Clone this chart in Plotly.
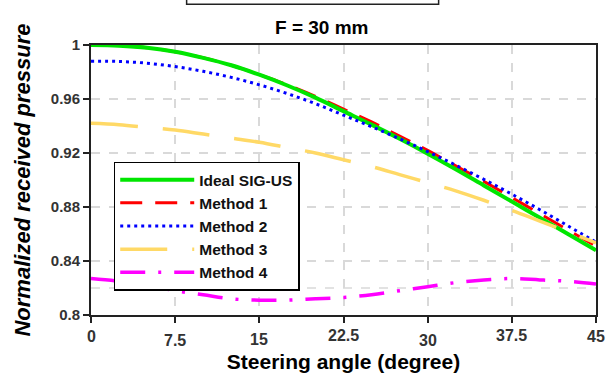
import plotly.graph_objects as go

angle = [0, 2.5, 5, 7.5, 10, 12.5, 15, 17.5, 20, 22.5, 25, 27.5, 30, 32.5, 35, 37.5, 40, 42.5, 45]
ideal = [1.0, 0.9995, 0.998, 0.995, 0.9905, 0.985, 0.978, 0.970, 0.961, 0.951, 0.941, 0.9305, 0.9195, 0.908, 0.896, 0.884, 0.872, 0.860, 0.848]
method1 = [1.0, 0.9995, 0.998, 0.995, 0.9905, 0.985, 0.978, 0.9705, 0.962, 0.9525, 0.943, 0.9325, 0.922, 0.9105, 0.899, 0.887, 0.875, 0.863, 0.851]
method2 = [0.988, 0.9878, 0.9865, 0.984, 0.9805, 0.976, 0.9705, 0.964, 0.9565, 0.948, 0.9395, 0.9305, 0.921, 0.911, 0.9005, 0.8895, 0.878, 0.866, 0.854]
method3 = [0.942, 0.941, 0.939, 0.937, 0.934, 0.931, 0.928, 0.924, 0.920, 0.915, 0.910, 0.904, 0.898, 0.892, 0.885, 0.8775, 0.8695, 0.8615, 0.8535]
method4 = [0.827, 0.825, 0.822, 0.818, 0.815, 0.812, 0.811, 0.811, 0.812, 0.813, 0.815, 0.818, 0.821, 0.824, 0.826, 0.827, 0.826, 0.825, 0.823]

x_ticks = [0, 7.5, 15, 22.5, 30, 37.5, 45]
x_ticklabels = ["0", "7.5", "15", "22.5", "30", "37.5", "45"]
y_ticks = [0.8, 0.84, 0.88, 0.92, 0.96, 1.0]
y_ticklabels = ["0.8", "0.84", "0.88", "0.92", "0.96", "1"]

# vertical offsets (px) of the x tick labels, as staggered in the original
x_label_shift = [-11, -15, -14, -10, -15, -10, -11]

FONT = "Liberation Sans, Arial, sans-serif"

fig = go.Figure()
fig.add_trace(go.Scatter(x=angle, y=method1, mode="lines", name="Method 1", legendrank=2,
                         line=dict(color="#ff0000", width=3, dash="22px,13px", shape="spline")))
fig.add_trace(go.Scatter(x=angle, y=ideal, mode="lines", name="Ideal SIG-US", legendrank=1,
                         line=dict(color="#00e600", width=4, shape="spline")))
fig.add_trace(go.Scatter(x=angle, y=method2, mode="lines", name="Method 2", legendrank=3,
                         line=dict(color="#0000ff", width=3, dash="3px,4px", shape="spline")))
fig.add_trace(go.Scatter(x=angle, y=method3, mode="lines", name="Method 3", legendrank=4,
                         line=dict(color="#ffd966", width=3.5, dash="47px,25px", shape="spline")))
fig.add_trace(go.Scatter(x=angle, y=method4, mode="lines", name="Method 4", legendrank=5,
                         line=dict(color="#ff00ff", width=3.5, dash="25px,13px,3px,13px", shape="spline")))

annotations = [dict(text="F = 30 mm", xref="paper", yref="paper",
                    x=(322 - 91) / 507, y=1.0, yshift=5, xanchor="center", yanchor="bottom",
                    showarrow=False,
                    font=dict(family=FONT, size=19, color="#000", weight="bold"))]
for xv, lab, sh in zip(x_ticks, x_ticklabels, x_label_shift):
    annotations.append(dict(text=lab, xref="x", yref="paper", x=xv, y=0, yshift=sh,
                            xanchor="center", yanchor="top", showarrow=False,
                            font=dict(family=FONT, size=16, color="#333", weight="bold")))

fig.update_layout(
    width=606, height=376,
    margin=dict(l=91, r=8, t=45, b=60),
    paper_bgcolor="white", plot_bgcolor="white",
    font=dict(family=FONT, color="#000"),
    showlegend=True,
    legend=dict(x=0.045, y=0.568, xanchor="left", yanchor="top",
                bgcolor="white", bordercolor="black", borderwidth=1.5,
                font=dict(family=FONT, size=15.5, color="#111", weight="bold"),
                itemwidth=74, tracegroupgap=0, traceorder="normal"),
    xaxis=dict(range=[0, 45], tickvals=x_ticks, ticktext=x_ticklabels, showticklabels=False,
               showline=True, linecolor="#222", linewidth=2, mirror=True,
               ticks="outside", ticklen=6, tickwidth=2, tickcolor="#222",
               showgrid=True, gridcolor="#d9d9d9", gridwidth=1.5, griddash="dash",
               zeroline=False,
               title=dict(text="Steering angle (degree)", standoff=32,
                          font=dict(family=FONT, size=21, color="#000", weight="bold"))),
    yaxis=dict(range=[0.8, 1.0], tickvals=y_ticks, ticktext=y_ticklabels,
               showline=True, linecolor="#222", linewidth=2, mirror=True,
               ticks="outside", ticklen=6, tickwidth=2, tickcolor="#222",
               showgrid=True, gridcolor="#d9d9d9", gridwidth=1.5, griddash="dash",
               zeroline=False,
               tickfont=dict(family=FONT, size=15, color="#333", weight="bold"),
               title=dict(text="<i>Normalized received pressure</i>", standoff=14,
                          font=dict(family=FONT, size=22, color="#000", weight="bold"))),
    annotations=annotations,
    shapes=[
        dict(type="line", xref="paper", yref="y", x0=0, x1=1, y0=0.82, y1=0.82,
             line=dict(color="#d9d9d9", width=1.5, dash="dash"), layer="below"),
        dict(type="rect", xref="paper", yref="paper",
             x0=(187 - 91) / 507, x1=(440 - 91) / 507, y0=(316 - 4) / 271, y1=1.3,
             line=dict(color="#222", width=1.5), fillcolor="rgba(0,0,0,0)"),
    ],
)

fig.write_html("out.html")
